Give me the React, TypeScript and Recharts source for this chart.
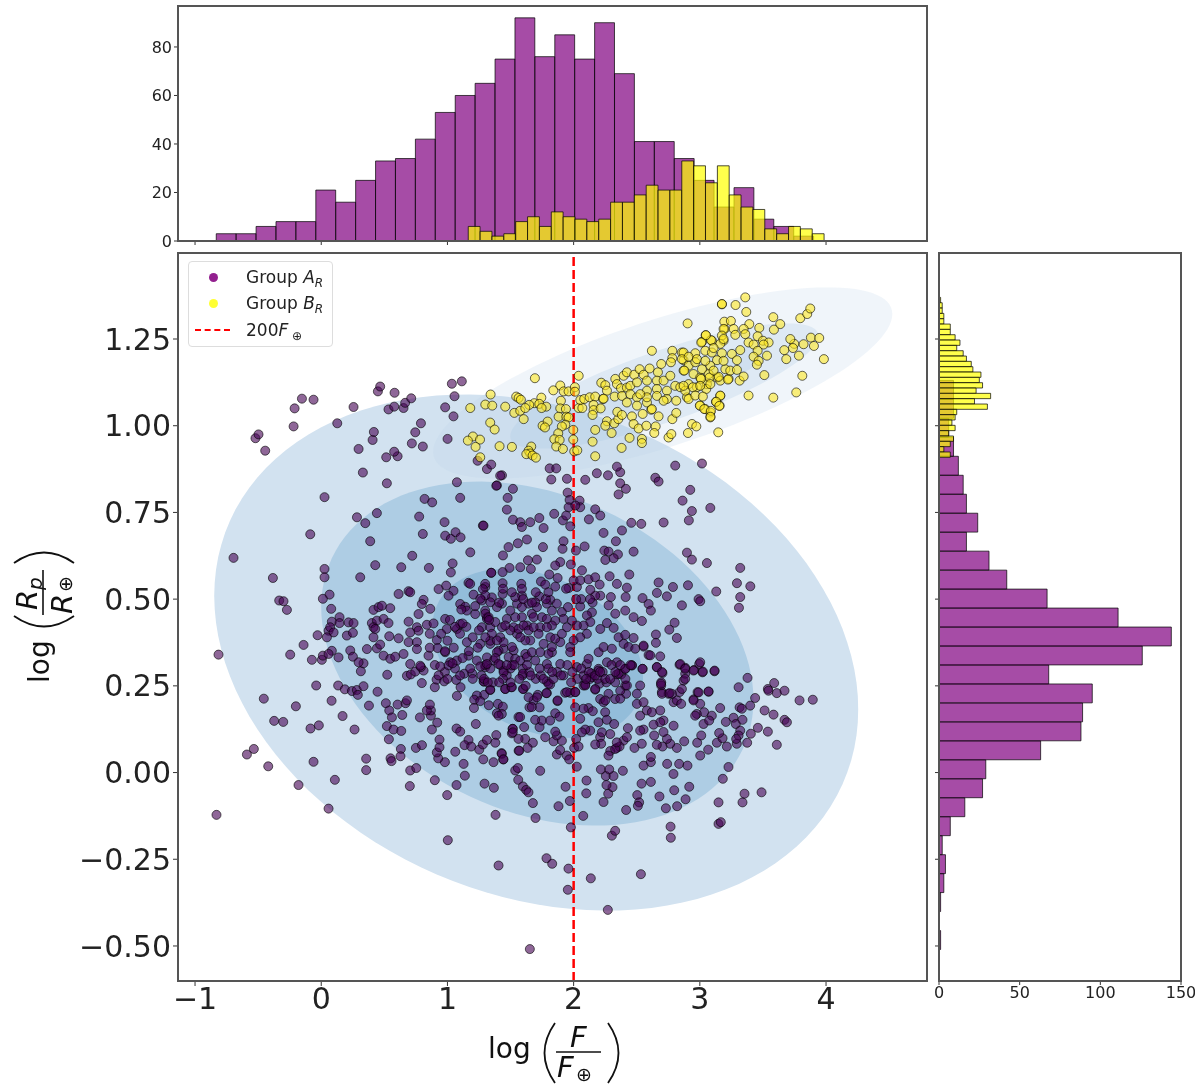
import React from 'react';
import {
  BarChart, Bar, ScatterChart, Scatter, XAxis, YAxis, ZAxis, ReferenceArea, ReferenceLine,
} from 'recharts';

const fluxTicks = [-1, 0, 1, 2, 3, 4];
const radiusTicks = [-0.5, -0.25, 0, 0.25, 0.5, 0.75, 1, 1.25];
const fluxDomain = [-1.135, 4.8];
const radiusDomain = [-0.601, 1.498];

// log F histogram
const fluxBinsA = [-0.753, -0.5952, -0.4374, -0.2796, -0.1218, 0.036, 0.1938, 0.3516, 0.5094, 0.6672, 0.825, 0.9828, 1.1406, 1.2984, 1.4562, 1.614, 1.7718, 1.9296, 2.0874, 2.2452, 2.403, 2.5608, 2.7186, 2.8764, 3.0342, 3.192, 3.3498, 3.5076, 3.6654, 3.8232];
const fluxCountsA = [3, 3, 6, 8, 8, 21, 16, 25, 33, 34, 42, 53, 60, 65, 75, 92, 76, 85, 75, 90, 69, 41, 41, 34, 25, 14, 22, 9, 6, 2];
const fluxBinsB = [1.212, 1.306, 1.4, 1.494, 1.588, 1.682, 1.776, 1.87, 1.964, 2.058, 2.152, 2.246, 2.34, 2.434, 2.528, 2.622, 2.716, 2.81, 2.904, 2.998, 3.092, 3.186, 3.28, 3.374, 3.468, 3.562, 3.656, 3.75, 3.844, 3.938];
const fluxCountsB = [6, 4, 2, 3, 8, 10, 6, 12, 10, 9, 8, 9, 16, 16, 19, 23, 21, 21, 33, 31, 24, 31, 19, 14, 13, 5, 3, 6, 5, 3];

// log R histogram
const radiusBinsA = [-0.483, -0.4283, -0.3736, -0.3189, -0.2642, -0.2095, -0.1548, -0.1001, -0.0454, 0.0093, 0.064, 0.1187, 0.1734, 0.2281, 0.2828, 0.3375, 0.3922, 0.4469, 0.5016, 0.5563, 0.611, 0.6657, 0.7204, 0.7751, 0.8298, 0.8845, 0.9392, 0.9939, 1.0486, 1.1033];
const radiusCountsA = [1, 0, 1, 3, 4, 2, 7, 16, 27, 29, 63, 88, 89, 95, 68, 126, 144, 111, 67, 42, 31, 17, 24, 17, 15, 12, 9, 6, 9, 9];
const radiusBinsB = [1.3623, 1.34693, 1.33156, 1.31619, 1.30082, 1.28545, 1.27008, 1.25471, 1.23934, 1.22397, 1.2086, 1.19323, 1.17786, 1.16249, 1.14712, 1.13175, 1.11638, 1.10101, 1.08564, 1.07027, 1.0549, 1.03953, 1.02416, 1.00879, 0.99342, 0.97805, 0.96268, 0.94731, 0.93194, 0.91657];
const radiusCountsB = [1, 2, 2, 3, 3, 7, 7, 10, 13, 11, 15, 17, 20, 21, 26, 25, 27, 23, 32, 22, 30, 11, 10, 8, 10, 6, 9, 7, 3, 7];

// density contours: extent in data units plus tilt
const contours = [
  { x1: -0.848, x2: 4.255, y1: -0.398, y2: 1.09, tilt: -0.22, fill: '#d2e2f0', opacity: 1 },
  { x1: 0, x2: 3.425, y1: -0.153, y2: 0.839, tilt: -0.27, fill: '#aecde4', opacity: 1 },
  { x1: 0.88, x2: 2.55, y1: 0.1, y2: 0.588, tilt: -0.3, fill: '#93bdda', opacity: 1 },
  { x1: 0.887, x2: 4.525, y1: 0.848, y2: 1.399, tilt: 0.72, fill: '#b9d3e9', opacity: 0.22 },
  { x1: 1.498, x2: 3.94, y1: 0.934, y2: 1.295, tilt: 0.8, fill: '#a9c9e4', opacity: 0.25 },
  { x1: 2.15, x2: 3.55, y1: 1.03, y2: 1.23, tilt: 0.85, fill: '#a9c9e4', opacity: 0.25 },
];

const groupA = [
  [-0.83, -0.122], [-0.589, 0.052], [-0.534, 0.068], [-0.42, 0.018], [-0.18, -0.036], [0.058, -0.104], [0.108, -0.021], [-0.061, 0.031],
  [-0.455, 0.213], [-0.373, 0.149], [-0.301, 0.146], [-0.201, 0.191], [-0.085, 0.127], [-0.019, 0.136], [0.082, 0.207], [-0.04, 0.251],
  [0.134, 0.251], [0.187, 0.24], [0.243, 0.235], [0.282, 0.238], [0.29, 0.224], [0.335, 0.249], [0.446, 0.233], [0.378, 0.193],
  [0.169, 0.163], [0.264, 0.124], [0.356, 0.04], [0.356, 0.007], [0.512, 0.2], [0.539, 0.179], [0.56, 0.159], [0.605, 0.196],
  [0.668, 0.2], [0.679, 0.208], [0.642, 0.166], [0.52, 0.134], [0.573, 0.124], [0.634, 0.12], [0.536, 0.096], [0.631, 0.068],
  [0.628, 0.047], [0.549, 0.041], [0.557, 0.033], [0.75, 0.071], [0.798, 0.079], [0.705, 0.006], [0.753, 0.013], [0.702, -0.039],
  [0.9, -0.022], [0.998, -0.065], [1.072, -0.036], [1.138, -0.009], [1.128, 0.025], [0.98, 0.03], [0.927, 0.041], [0.916, 0.058],
  [0.937, 0.073], [0.937, 0.095], [0.877, 0.124], [0.782, 0.159], [0.919, 0.144], [0.869, 0.164], [0.869, 0.179], [0.837, 0.179],
  [0.861, 0.196], [0.797, 0.258], [0.9, 0.246], [0.914, 0.268], [0.974, 0.263], [0.679, 0.279], [0.71, 0.283], [0.745, 0.291],
  [0.811, 0.294], [0.79, 0.304], [0.523, 0.282], [0.314, 0.292], [0.335, 0.315], [1.07, 0.267], [1.104, 0.246], [1.075, 0.221],
  [1.133, 0.285], [1.196, 0.286], [1.291, 0.262], [1.339, 0.238], [1.291, 0.224], [1.233, 0.222], [1.212, 0.21], [1.26, 0.206],
  [1.21, 0.186], [1.328, 0.194], [1.4, 0.198], [1.439, 0.19], [1.392, 0.171], [1.431, 0.169], [1.405, 0.164], [1.225, 0.14],
  [1.072, 0.127], [1.101, 0.118], [1.167, 0.094], [1.136, 0.079], [1.188, 0.075], [1.252, 0.066], [1.281, 0.081], [1.313, 0.094],
  [1.387, 0.108], [1.379, 0.086], [1.062, 0.06], [1.284, 0.038], [1.365, 0.03], [1.429, 0.056], [1.442, 0.038], [1.294, -0.032],
  [1.368, -0.044], [1.381, -0.122], [1.003, -0.195], [1.405, -0.268], [1.516, 0.126], [1.511, 0.113], [1.564, 0.063], [1.458, 0.241],
  [1.505, 0.246], [1.563, 0.16], [1.653, -0.509], [2.271, -0.396], [1.954, -0.338], [2.136, -0.305], [2.533, -0.293], [1.959, -0.277],
  [1.785, -0.247], [1.83, -0.263], [2.303, -0.182], [2.329, -0.168], [2.768, -0.156], [2.77, -0.188], [1.978, -0.158], [2.076, -0.125],
  [1.698, -0.131], [1.88, -0.097], [1.97, -0.082], [1.677, -0.088], [2.416, -0.108], [2.237, -0.085], [2.1, -0.06], [1.936, -0.041],
  [2.102, -0.023], [2.274, -0.061], [2.308, -0.042], [2.26, -0.036], [2.255, -0.01], [2.316, -0.01], [2.216, 0.009], [2.282, 0.009],
  [2.39, 0.005], [2.025, 0.017], [1.735, 0.005], [1.537, 0.006], [1.558, 0.013], [1.561, -0.021], [1.598, -0.04], [1.624, -0.05],
  [1.642, -0.057], [2.538, -0.032], [2.612, -0.027], [2.504, -0.065], [2.519, -0.086], [2.509, -0.096], [2.68, -0.069], [2.731, -0.103],
  [2.82, -0.097], [2.887, -0.077], [2.797, -0.051], [2.916, -0.041], [2.791, -0.004], [2.741, 0.025], [2.836, 0.025], [2.902, 0.02],
  [2.554, 0.02], [2.612, 0.03], [2.612, 0.045], [3.003, 0.049], [3.066, 0.066], [3.227, 0.016], [3.182, -0.018], [3.148, -0.086],
  [3.148, -0.148], [3.166, -0.143], [3.338, -0.086], [3.354, -0.061], [3.489, -0.057], [3.61, 0.08], [3.375, 0.086], [3.293, 0.083],
  [3.214, 0.075], [3.135, 0.086], [3.18, 0.099], [3.153, 0.114], [2.979, 0.086], [3.011, 0.107], [2.876, 0.09], [2.818, 0.071],
  [2.765, 0.083], [2.704, 0.075], [2.659, 0.08], [2.739, 0.097], [2.712, 0.117], [2.638, 0.107], [2.54, 0.083], [2.482, 0.071],
  [2.554, 0.124], [2.527, 0.121], [2.43, 0.128], [2.395, 0.092], [2.342, 0.071], [2.364, 0.075], [2.29, 0.062], [2.276, 0.049],
  [2.329, 0.068], [2.422, 0.102], [2.342, 0.087], [2.21, 0.102], [2.218, 0.083], [2.171, 0.081], [2.224, 0.116], [2.29, 0.111],
  [2.131, 0.121], [2.092, 0.124], [2.065, 0.116], [2.052, 0.155], [2.197, 0.145], [2.25, 0.174], [2.263, 0.152], [2.321, 0.14],
  [2.118, 0.186], [2.152, 0.177], [2.078, 0.184], [2.02, 0.097], [2.004, 0.071], [2.039, 0.075], [2.012, 0.188], [1.946, 0.049],
  [1.965, 0.038], [1.867, 0.052], [1.893, 0.065], [1.841, 0.09], [1.907, 0.092], [1.867, 0.107], [1.854, 0.118], [1.775, 0.102],
  [1.73, 0.131], [1.748, 0.15], [1.695, 0.152], [1.576, 0.16], [1.608, 0.131], [1.518, 0.126], [1.518, 0.116], [1.616, 0.097],
  [1.563, 0.097], [1.677, 0.086], [1.635, 0.071], [1.569, 0.063], [1.431, 0.054], [1.444, 0.038], [1.73, 0.188], [1.854, 0.171],
  [1.814, 0.15], [1.888, 0.161], [1.788, 0.229], [1.716, 0.224], [1.872, 0.206], [1.65, 0.188], [1.682, 0.208], [1.603, 0.241],
  [1.595, 0.28], [1.598, 0.299], [1.814, 0.254], [1.788, 0.263], [1.933, 0.23], [1.973, 0.23], [2.012, 0.232], [2.078, 0.251],
  [2.092, 0.254], [2.171, 0.239], [2.205, 0.256], [2.131, 0.27], [2.197, 0.299], [2.139, 0.286], [2.21, 0.212], [2.276, 0.227],
  [2.237, 0.203], [2.329, 0.212], [2.416, 0.227], [2.369, 0.236], [2.409, 0.251], [2.342, 0.283], [2.377, 0.283], [2.527, 0.251],
  [2.501, 0.227], [2.501, 0.198], [2.527, 0.164], [2.554, 0.203], [2.58, 0.179], [2.62, 0.174], [2.686, 0.179], [2.712, 0.15],
  [2.686, 0.145], [2.633, 0.138], [2.792, 0.135], [2.694, 0.26], [2.694, 0.251], [2.699, 0.232], [2.752, 0.227], [2.792, 0.203],
  [2.818, 0.208], [2.852, 0.198], [2.839, 0.232], [2.871, 0.265], [2.884, 0.285], [2.659, 0.304], [2.704, 0.287], [2.546, 0.299],
  [2.461, 0.309], [2.409, 0.299], [2.839, 0.311], [2.884, 0.302], [2.955, 0.296], [3.021, 0.289], [2.995, 0.313], [3.116, 0.292],
  [2.95, 0.211], [2.982, 0.232], [3.069, 0.233], [3.003, 0.198], [3.034, 0.174], [3.029, 0.14], [2.976, 0.169], [2.963, 0.164],
  [3.095, 0.164], [3.074, 0.15], [3.161, 0.186], [3.206, 0.146], [3.267, 0.158], [3.285, 0.14], [3.315, 0.188], [3.333, 0.184],
  [3.399, 0.193], [3.438, 0.215], [3.338, 0.152], [3.32, 0.121], [3.307, 0.107], [3.288, 0.097], [3.404, 0.112], [3.46, 0.129],
  [3.539, 0.118], [3.307, 0.246], [3.378, 0.273], [3.513, 0.179], [3.584, 0.167], [3.671, 0.152], [3.69, 0.145], [3.539, 0.241],
  [3.544, 0.236], [3.589, 0.258], [3.61, 0.229], [3.671, 0.236], [3.79, 0.208], [3.895, 0.21],
  [1.432, 0.857], [1.392, 0.828], [1.519, 0.818], [1.477, 0.792], [1.471, 0.758], [1.519, 0.729], [1.577, 0.722], [1.59, 0.708],
  [1.656, 0.722], [1.728, 0.734], [1.762, 0.705], [1.281, 0.712], [1.846, 0.746], [1.915, 0.727], [1.941, 0.741], [1.973, 0.71],
  [1.952, 0.807], [1.968, 0.786], [1.96, 0.765], [2.047, 0.784], [2.052, 0.765], [2.013, 0.77], [1.823, 0.845], [1.947, 0.847],
  [2.092, 0.844], [2.184, 0.863], [2.272, 0.857], [2.369, 0.866], [2.369, 0.834], [2.414, 0.818], [2.356, 0.802], [2.647, 0.85],
  [2.673, 0.839], [2.924, 0.815], [2.863, 0.784], [3.083, 0.763], [2.937, 0.754], [2.913, 0.727], [2.713, 0.721], [2.171, 0.759],
  [2.211, 0.741], [2.121, 0.73], [2.237, 0.691], [2.383, 0.698], [2.457, 0.72], [2.536, 0.717], [2.335, 0.667], [2.475, 0.637],
  [2.243, 0.64], [2.277, 0.637], [2.351, 0.629], [2.317, 0.618], [2.251, 0.613], [2.898, 0.634], [2.937, 0.614], [3.056, 0.604],
  [3.32, 0.59], [3.294, 0.546], [3.4, 0.537], [3.32, 0.506], [3.31, 0.475], [3.13, 0.522], [2.906, 0.54], [2.787, 0.535],
  [2.673, 0.548], [2.66, 0.518], [2.739, 0.508], [2.441, 0.571], [2.285, 0.566], [2.858, 0.482], [2.99, 0.5], [3.003, 0.494],
  [2.343, 0.544], [2.422, 0.533], [2.295, 0.506], [2.412, 0.506], [2.211, 0.51], [2.171, 0.51], [2.546, 0.503], [2.594, 0.486],
  [2.612, 0.467], [2.541, 0.437], [2.8, 0.432], [2.758, 0.412], [2.818, 0.388], [2.652, 0.398], [2.652, 0.374], [2.554, 0.363],
  [2.686, 0.335], [2.594, 0.339], [1.757, 0.65], [1.63, 0.672], [1.558, 0.661], [1.484, 0.65], [1.44, 0.626], [1.92, 0.667],
  [1.912, 0.645], [2.018, 0.64], [2.087, 0.652], [1.638, 0.612], [1.709, 0.614], [1.661, 0.587], [1.577, 0.592], [1.492, 0.59],
  [1.437, 0.578], [1.347, 0.576], [1.894, 0.607], [1.854, 0.597], [1.978, 0.6], [2.066, 0.583], [1.807, 0.571], [1.741, 0.551],
  [1.775, 0.542], [1.854, 0.536], [1.873, 0.561], [1.96, 0.532], [2.026, 0.535], [2, 0.554], [2.052, 0.554], [2.118, 0.557],
  [2.171, 0.563], [2.206, 0.542], [2.132, 0.527], [1.585, 0.544], [1.437, 0.546], [1.437, 0.515], [1.3, 0.535], [1.59, 0.51],
  [1.728, 0.508], [1.643, 0.487], [1.815, 0.498], [1.907, 0.463], [1.955, 0.477], [2.052, 0.479], [2.145, 0.462], [2.105, 0.453],
  [2.277, 0.482], [2.33, 0.458], [2.409, 0.467], [2.475, 0.448], [2.132, 0.434], [2.211, 0.414], [2.264, 0.431], [2.317, 0.417],
  [2.356, 0.39], [2.409, 0.397], [2.475, 0.388], [2.079, 0.424], [2.105, 0.4], [2, 0.381], [1.973, 0.362], [1.894, 0.376],
  [1.815, 0.39], [1.735, 0.419], [1.63, 0.424], [1.524, 0.419], [1.432, 0.419], [1.313, 0.448], [1.418, 0.39], [1.551, 0.4],
  [1.656, 0.381], [1.762, 0.371], [1.828, 0.347], [1.894, 0.313], [1.973, 0.347], [2.052, 0.39], [1.59, 0.448], [1.669, 0.458],
  [1.749, 0.448], [1.828, 0.467], [1.696, 0.491], [1.339, 0.371], [1.445, 0.357], [1.524, 0.352], [1.617, 0.342], [1.696, 0.323],
  [1.788, 0.313], [1.366, 0.323], [1.3, 0.304], [1.445, 0.294], [1.598, 0.285], [1.598, 0.241], [1.458, 0.241], [1.511, 0.246],
  [1.339, 0.239], [1.286, 0.263], [1.801, 0.256], [1.783, 0.229], [1.873, 0.208], [1.709, 0.217], [1.643, 0.217], [1.669, 0.189],
  [1.947, 0.232], [2.013, 0.232], [2.092, 0.251], [2.145, 0.275], [2.198, 0.294], [2.171, 0.241], [2.251, 0.208], [2.369, 0.213],
  [2.422, 0.251], [2.356, 0.285], [2.409, 0.299], [2.462, 0.309], [2.546, 0.299], [2.343, 0.318], [2.264, 0.318], [2.198, 0.347],
  [2.237, 0.362], [2.303, 0.357], [2.396, 0.371], [2.435, 0.362], [2.488, 0.357], [2.554, 0.366], [2.607, 0.338], [2.105, 0.313],
  [2.026, 0.304], [2.118, 0.328], [2.66, 0.304], [2.7, 0.29], [2.845, 0.313], [2.884, 0.299], [2.95, 0.294], [3.003, 0.318],
  [3.024, 0.291], [3.117, 0.294], [2.884, 0.27], [2.858, 0.241], [2.779, 0.227], [2.95, 0.208], [2.99, 0.231],
  [3.069, 0.234], [2.692, 0.256], [2.7, 0.227], [2.76, 0.229],
  [-0.695, 0.619], [-0.383, 0.561], [-0.814, 0.34], [-0.087, 0.687], [0.026, 0.794], [0.026, 0.587], [0.026, 0.563], [-0.333, 0.496],
  [-0.299, 0.494], [-0.272, 0.469], [0.066, 0.513], [0.013, 0.501], [-0.14, 0.368], [-0.246, 0.34], [-0.029, 0.396], [-0.074, 0.325],
  [0.005, 0.325], [0.013, 0.337], [0.079, 0.472], [0.084, 0.435], [0.145, 0.448], [0.145, 0.431], [0.058, 0.409], [0.071, 0.419],
  [0.098, 0.404], [0.045, 0.39], [0.084, 0.351], [0.058, 0.342], [0.137, 0.332], [0.216, 0.433], [0.256, 0.431], [0.203, 0.395],
  [0.251, 0.403], [0.23, 0.352], [0.251, 0.334], [0.296, 0.318], [0.362, 0.356], [0.441, 0.358], [0.467, 0.369], [0.414, 0.469],
  [0.454, 0.477], [0.481, 0.481], [0.547, 0.474], [0.401, 0.431], [0.441, 0.438], [0.414, 0.419], [0.494, 0.443], [0.533, 0.431],
  [0.428, 0.414], [0.414, 0.39], [0.539, 0.393], [0.613, 0.387], [0.494, 0.337], [0.547, 0.328], [0.586, 0.334], [0.652, 0.342],
  [0.613, 0.515], [0.692, 0.523], [0.705, 0.52], [0.811, 0.498], [0.797, 0.486], [0.771, 0.457], [0.864, 0.472], [0.692, 0.435],
  [0.705, 0.404], [0.758, 0.419], [0.771, 0.409], [0.837, 0.426], [0.692, 0.376], [0.758, 0.376], [0.758, 0.356], [0.85, 0.337],
  [0.705, 0.313], [0.784, 0.308], [0.93, 0.529], [0.99, 0.539], [1.048, 0.524], [1.009, 0.51], [0.916, 0.382], [0.982, 0.443],
  [0.995, 0.414], [0.922, 0.359], [1.075, 0.414], [1.167, 0.547], [1.18, 0.544], [1.299, 0.544], [1.281, 0.529], [1.352, 0.505],
  [1.273, 0.496], [1.207, 0.513], [1.101, 0.486], [1.141, 0.478], [1.154, 0.467], [1.299, 0.467], [0.982, 0.347], [1.022, 0.318],
  [1.075, 0.323], [1.154, 0.376], [1.167, 0.337], [1.233, 0.323], [1.339, 0.38], [1.313, 0.443], [1.22, 0.457], [1.101, 0.428],
  [1.313, 0.332], [1.405, 0.351], [1.347, 0.576], [1.286, 0.712], [1.027, 0.577], [1.041, 0.603], [0.853, 0.59], [0.634, 0.592],
  [0.428, 0.598], [0.309, 0.563], [0.721, 0.625], [1.181, 0.635], [0.388, 0.667], [0.349, 0.719], [0.283, 0.736], [0.441, 0.748],
  [0.776, 0.738], [0.977, 0.722], [0.805, 0.688], [0.982, 0.683], [1.027, 0.674], [1.064, 0.693], [1.104, 0.678], [0.819, 0.789],
  [0.879, 0.779], [1.101, 0.792], [1.075, 0.837], [1.387, 0.827], [0.52, 0.834], [0.33, 0.865], [0.515, 0.909], [0.605, 0.912],
  [0.578, 0.925], [0.805, 0.94], [0.718, 0.949], [0.296, 0.933], [0.407, 0.959], [0.417, 0.982], [0.745, 0.981], [0.79, 1.007],
  [1.001, 0.962], [0.127, 1.007], [-0.219, 0.998], [-0.521, 0.964], [-0.497, 0.975], [-0.444, 0.928], [-0.211, 1.05], [-0.153, 1.078],
  [-0.061, 1.075], [0.256, 1.054], [0.449, 1.099], [0.467, 1.113], [0.581, 1.095], [0.533, 1.047], [0.578, 1.055], [0.652, 1.051],
  [0.665, 1.066], [0.713, 1.079], [0.982, 1.053], [1.048, 1.027], [1.056, 1.085], [1.035, 1.121], [1.114, 1.128], [1.239, 0.899],
  [1.313, 0.875], [1.347, 0.888], [1.418, 0.856], [1.81, 0.877], [1.862, 0.877], [2.343, 0.882], [2.805, 0.885], [3.017, 0.891],
  [1.3, 0.458], [1.326, 0.448], [1.273, 0.419], [1.339, 0.419], [1.379, 0.434], [1.471, 0.443], [1.498, 0.41], [1.458, 0.424],
  [1.564, 0.414], [1.603, 0.424], [1.643, 0.41], [1.683, 0.419], [1.722, 0.4], [1.617, 0.381], [1.577, 0.39], [1.511, 0.362],
  [1.445, 0.376], [1.392, 0.381], [1.352, 0.4], [1.3, 0.39], [1.26, 0.371], [1.392, 0.347], [1.485, 0.333], [1.537, 0.328],
  [1.577, 0.323], [1.63, 0.333], [1.669, 0.347], [1.735, 0.347], [1.801, 0.342], [1.828, 0.362], [1.854, 0.386], [1.907, 0.4],
  [1.947, 0.419], [2.026, 0.424], [1.986, 0.438], [1.92, 0.443], [1.854, 0.438], [1.788, 0.443], [1.683, 0.448], [1.537, 0.448],
  [1.498, 0.467], [1.432, 0.487], [1.392, 0.477], [1.339, 0.491], [1.3, 0.511], [1.26, 0.501], [1.551, 0.487], [1.59, 0.477],
  [1.788, 0.487], [1.867, 0.487], [1.709, 0.477], [1.537, 0.506], [1.828, 0.424], [1.788, 0.419],
  [0.95, 0.4], [1.0, 0.38], [1.05, 0.36], [1.1, 0.4], [1.15, 0.42], [1.2, 0.39], [1.25, 0.41], [1.02, 0.44], [1.06, 0.3], [1.12, 0.33],
  [1.18, 0.3], [1.24, 0.36], [1.27, 0.28], [1.1, 0.28], [0.98, 0.29], [0.9, 0.31], [0.86, 0.4], [1.3, 0.31], [1.34, 0.3], [1.38, 0.33],
  [1.42, 0.31], [1.47, 0.28], [1.5, 0.3], [1.36, 0.26], [1.2, 0.27], [1.0, 0.27], [0.93, 0.28], [0.943, 0.306], [1.009, 0.309],
  [1.04, 0.315], [1.26, 0.306], [1.313, 0.313], [1.405, 0.313], [1.445, 0.289], [1.511, 0.309],
  [1.33, 0.44], [1.11, 0.47], [1.29, 0.27], [1.06, 0.42], [1.41, 0.49], [1.44, 0.27], [1.17, 0.35], [1.5, 0.26], [1.53, 0.31], [1.22, 0.48],
  [1.57, 0.27], [1.6, 0.5], [1.62, 0.25], [1.65, 0.29], [1.67, 0.49], [1.7, 0.27], [1.74, 0.28], [1.78, 0.5], [1.8, 0.3], [1.84, 0.27],
  [1.87, 0.29], [1.92, 0.28], [1.95, 0.31], [1.99, 0.29], [2.03, 0.27], [2.06, 0.5], [2.08, 0.28], [2.12, 0.29], [2.15, 0.49], [2.19, 0.27],
  [2.23, 0.29], [2.26, 0.26], [2.3, 0.31], [2.33, 0.26], [0.98, 0.35], [1.32, 0.26], [1.12, 0.43], [1.41, 0.26], [1.44, 0.53], [1.47, 0.31],
  [1.51, 0.52], [0.89, 0.43], [1.59, 0.53], [1.63, 0.31], [1.66, 0.28], [1.7, 0.52], [1.73, 0.3], [1.76, 0.27], [1.8, 0.52], [1.83, 0.29],
  [0.86, 0.36], [1.9, 0.28], [1.94, 0.53], [1.98, 0.26], [2.02, 0.5], [2.06, 0.3], [2.1, 0.27], [2.13, 0.5], [2.17, 0.28], [2.21, 0.29],
  [2.25, 0.27], [2.29, 0.27], [2.33, 0.29], [2.37, 0.31], [2.41, 0.27], [2.45, 0.31],
].map(([x, y]) => ({ x, y }));

const groupB = [
  [1.693, 1.137], [1.342, 1.09], [1.181, 1.051], [1.3, 1.061], [1.355, 1.058], [1.458, 1.055], [1.545, 1.084], [1.564, 1.08], [1.582, 1.075],
  [1.744, 1.081], [1.688, 1.065], [1.728, 1.063], [1.648, 1.06], [1.783, 1.055], [1.746, 1.051], [1.53, 1.037], [1.577, 1.043], [1.617, 1.051],
  [1.604, 1.019], [1.339, 1.009], [1.374, 0.989], [1.202, 0.969], [1.162, 0.957], [1.258, 0.96], [1.223, 0.939], [1.413, 0.941], [1.511, 0.939],
  [1.664, 0.94], [1.643, 0.928], [1.656, 0.92], [1.625, 0.918], [1.675, 0.914], [1.701, 0.908], [1.26, 0.909], [1.754, 1], [1.794, 1.012],
  [1.773, 0.995], [1.839, 1.102], [1.894, 1.116], [1.921, 1.099], [1.96, 1.099], [2.01, 1.111], [2.01, 1.098], [2.04, 1.144], [1.899, 1.072],
  [1.894, 1.05], [1.939, 1.048], [1.881, 1.026], [1.942, 1.026], [1.96, 1.024], [1.934, 1.003], [1.907, 0.998], [1.878, 0.978], [1.847, 0.961],
  [1.889, 0.959], [1.862, 0.94], [1.915, 0.933], [1.997, 0.988], [1.997, 0.96], [2.005, 0.926], [2.029, 0.929], [2.04, 1.051], [2.069, 1.051],
  [2.053, 1.074], [2.084, 1.077], [2.127, 1.082], [2.171, 1.084], [2.232, 1.077], [2.158, 1.06], [2.158, 1.045], [2.15, 1.031], [2.214, 1.05],
  [2.171, 0.988], [2.15, 0.954], [2.171, 0.912], [2.38, 0.936], [2.301, 0.979], [2.264, 1.013], [2.251, 1.0], [2.322, 1.007], [2.354, 1.019],
  [2.346, 1.04], [2.443, 0.965], [2.541, 0.962], [2.541, 0.95], [2.383, 1.031], [2.462, 1.027], [2.475, 1.005], [2.515, 0.992], [2.576, 1],
  [2.65, 0.998], [2.639, 0.979], [2.752, 0.966], [2.774, 0.976], [2.906, 0.979], [3.146, 0.981], [2.938, 1.005], [2.972, 0.998], [2.782, 1.019],
  [2.813, 1.037], [2.673, 1.027], [2.615, 1.046], [2.547, 1.034], [2.813, 1.072], [2.219, 1.124], [2.251, 1.117], [2.264, 1.101], [2.325, 1.084],
  [2.238, 1.078], [2.33, 1.135], [2.343, 1.12], [2.375, 1.108], [2.396, 1.144], [2.422, 1.154], [2.48, 1.147], [2.523, 1.163], [2.602, 1.165],
  [2.555, 1.147], [2.668, 1.154], [2.694, 1.178], [2.62, 1.216], [2.903, 1.295], [3.175, 1.35], [2.782, 1.216], [2.782, 1.195], [2.771, 1.183],
  [2.858, 1.211], [2.871, 1.189], [2.911, 1.173], [2.964, 1.209], [3.017, 1.242], [3.046, 1.261], [3.096, 1.245], [3.043, 1.216], [3.096, 1.211],
  [3.175, 1.209], [3.188, 1.245], [3.196, 1.279], [3.194, 1.3], [2.383, 1.086], [2.422, 1.11], [2.449, 1.115], [2.502, 1.125], [2.581, 1.13],
  [2.66, 1.13], [2.713, 1.13], [2.766, 1.144], [2.805, 1.115], [2.871, 1.159], [2.95, 1.149], [3.003, 1.139], [3.07, 1.149], [3.136, 1.139],
  [3.202, 1.163], [3.228, 1.135], [2.449, 1.091], [2.502, 1.082], [2.581, 1.101], [2.66, 1.106], [2.739, 1.101], [2.845, 1.111], [2.911, 1.12],
  [2.977, 1.111], [3.056, 1.12], [3.162, 1.13], [2.739, 1.077], [2.581, 1.067], [2.502, 1.058], [2.422, 1.067], [2.66, 1.086], [2.581, 1.082],
  [2.528, 1.091], [2.62, 1.048], [2.713, 1.072], [2.898, 1.082], [2.885, 1.101], [2.911, 1.077], [3.003, 1.058], [3.043, 1.048], [3.083, 1.038],
  [3.083, 1.024], [3.162, 1.086], [3.157, 1.058], [3.128, 1.069], [3.36, 1.37], [3.175, 1.351], [3.283, 1.348], [3.368, 1.328], [3.246, 1.302],
  [3.392, 1.293], [3.582, 1.313], [3.637, 1.293], [3.587, 1.277], [3.471, 1.282], [3.796, 1.31], [3.851, 1.322], [3.875, 1.338], [3.88, 1.254],
  [3.946, 1.253], [3.904, 1.23], [3.822, 1.235], [3.748, 1.236], [3.717, 1.25], [3.738, 1.224], [3.669, 1.218], [3.785, 1.202], [3.685, 1.192],
  [3.983, 1.192], [3.532, 1.202], [3.511, 1.146], [3.812, 1.144], [3.764, 1.096], [3.582, 1.081], [3.386, 1.087], [3.188, 1.279], [3.268, 1.279],
  [3.281, 1.262], [3.347, 1.279], [3.36, 1.264], [3.386, 1.24], [3.426, 1.234], [3.458, 1.258], [3.5, 1.245], [3.545, 1.24], [3.505, 1.234],
  [3.458, 1.216], [3.175, 1.26], [3.162, 1.236], [3.188, 1.25], [3.088, 1.247], [3.048, 1.261], [3.011, 1.24], [2.871, 1.211], [3.32, 1.218],
  [3.254, 1.207], [3.109, 1.224], [3.426, 1.199], [3.466, 1.187], [3.452, 1.176], [3.294, 1.189], [3.315, 1.13], [3.347, 1.142], [3.223, 1.133],
  [3.136, 1.189], [3.083, 1.173], [3.188, 1.187], [3.241, 1.159], [3.294, 1.161], [3.149, 1.141], [3.077, 1.139], [3.009, 1.135], [2.877, 1.159],
  [2.964, 1.183], [3.017, 1.163], [3.109, 1.159], [2.858, 1.192], [2.911, 1.199], [2.977, 1.192], [3.043, 1.187], [3.051, 1.106], [2.945, 1.111],
  [2.871, 1.115], [3.003, 1.115], [3.083, 1.12], [2.964, 1.087], [3.024, 1.084], [3.162, 1.087], [3.13, 1.069], [3.154, 1.057], [3, 1.058],
  [3.035, 1.048], [3.088, 1.043], [3.085, 1.026],
].map(([x, y]) => ({ x, y }));

const fluxHistA = fluxBinsA.map((bin, i) => ({ bin, count: fluxCountsA[i] }));
const fluxHistB = fluxBinsB.map((bin, i) => ({ bin, count: fluxCountsB[i] }));
const radiusHistA = radiusBinsA.map((bin, i) => ({ bin, count: radiusCountsA[i] }));
const radiusHistB = radiusBinsB.map((bin, i) => ({ bin, count: radiusCountsB[i] }));

const FONT = '"DejaVu Sans", sans-serif';
const INK = '#222';
const FRAME = '#555';
const PURPLE = '#800080';
const YELLOW = '#ffff00';

const NoLabel = () => <g />;

const Contour = ({ x, y, width, height, tilt, fill, opacity }: any) => {
  const delta = Math.acos(tilt);
  const steps = [];
  for (let t = 0; t < 360; t += 3) {
    const a = (t * Math.PI) / 180;
    const px = x + width / 2 + (width / 2) * Math.cos(a);
    const py = y + height / 2 - (height / 2) * Math.cos(a - delta);
    steps.push(`${px.toFixed(1)},${py.toFixed(1)}`);
  }
  return <path d={`M${steps.join('L')}Z`} fill={fill} fillOpacity={opacity} stroke="none" />;
};

const Frame = ({ left, top, width, height }: any) => (
  <div style={{ position: 'absolute', left, top, width, height, border: `2px solid ${FRAME}`, boxSizing: 'border-box', pointerEvents: 'none' }} />
);

// the two groups have different bins, so each gets its own chart stacked on the same plot area.
// barSize stays just under the bin width, recharts shrinks bars by 10% otherwise
const FluxHist = ({ data, fill, barSize, axes }: any) => (
  <div style={{ position: 'absolute', left: 120, top: 0 }}>
    <BarChart data={data} width={815} height={252} margin={{ top: 5, right: 8, left: 8, bottom: 3 }}>
      <XAxis type="number" dataKey="bin" domain={fluxDomain} ticks={fluxTicks} tick={NoLabel} height={8} tickSize={4} axisLine={false} tickLine={axes ? { stroke: '#333' } : false} interval={0} allowDataOverflow />
      <YAxis type="number" domain={[0, 97.3]} ticks={[0, 20, 40, 60, 80]} width={50} tickSize={4} tickLine={axes ? { stroke: '#333' } : false} axisLine={false} tick={axes ? { fontSize: 16, fill: INK, fontFamily: FONT } : NoLabel} />
      <Bar dataKey="count" barSize={barSize} fill={fill} fillOpacity={0.7} stroke="#000" strokeOpacity={0.7} isAnimationActive={false} />
    </BarChart>
  </div>
);

const RadiusHist = ({ data, fill, barSize, axes }: any) => (
  <div style={{ position: 'absolute', left: 930, top: 240 }}>
    <BarChart data={data} layout="vertical" width={265} height={800} margin={{ top: 13, right: 14, left: 0, bottom: 14 }}>
      <XAxis type="number" domain={[0, 150]} ticks={[0, 50, 100, 150]} height={45} tickSize={4} tickLine={axes ? { stroke: '#333' } : false} axisLine={false} tick={axes ? { fontSize: 16, fill: INK, fontFamily: FONT } : NoLabel} />
      <YAxis type="number" dataKey="bin" reversed domain={radiusDomain} ticks={radiusTicks} tick={NoLabel} width={9} tickSize={4} tickLine={axes ? { stroke: '#333' } : false} axisLine={false} interval={0} allowDataOverflow />
      <Bar dataKey="count" barSize={barSize} fill={fill} fillOpacity={0.7} stroke="#000" strokeOpacity={0.7} isAnimationActive={false} />
    </BarChart>
  </div>
);

const paren = (side: number) =>
  side < 0 ? 'M67,-29 Q46,1 67,31' : 'M120,-29 Q141,1 120,31';

// log( num / den ) with the fraction bar on y=0 and "log" starting at x=0
const MathLabel = ({ transform, children }: any) => (
  <g transform={transform} fontFamily={FONT} fill="#111">
    <text x={0} y={6} fontSize={28}>log</text>
    <path d={paren(-1)} fill="none" stroke="#111" strokeWidth={1.8} />
    <path d={paren(1)} fill="none" stroke="#111" strokeWidth={1.8} />
    <line x1={68} x2={113} y1={0} y2={0} stroke="#111" strokeWidth={1.6} />
    {children}
  </g>
);

const legendRow: React.CSSProperties = { position: 'absolute', left: 57, fontSize: 17, lineHeight: '20px', whiteSpace: 'nowrap', color: '#222' };
const sub: React.CSSProperties = { fontSize: 12, fontStyle: 'italic', position: 'relative', top: 4 };

const App = () => (
  <div style={{ position: 'absolute', left: 0, top: 0, width: 1200, height: 1088, background: '#fff', fontFamily: FONT, overflow: 'hidden', filter: 'blur(0.45px)' }}>
    <FluxHist data={fluxHistA} fill={PURPLE} barSize={19.85} axes />
    <FluxHist data={fluxHistB} fill={YELLOW} barSize={11.8} axes={false} />
    <Frame left={177} top={5} width={751} height={237} />

    <div style={{ position: 'absolute', left: 60, top: 240 }}>
      <ScatterChart width={880} height={800} margin={{ top: 13, right: 13, left: 18, bottom: 14 }}>
        <XAxis type="number" dataKey="x" domain={fluxDomain} ticks={fluxTicks} height={45} tickSize={5} stroke="#333" interval={0} allowDataOverflow
          tickFormatter={(v: number) => String(v).replace('-', '\u2212')} tick={{ fontSize: 30, fill: INK, fontFamily: FONT }} />
        <YAxis type="number" dataKey="y" domain={radiusDomain} ticks={radiusTicks} width={100} tickSize={5} stroke="#333" interval={0} allowDataOverflow
          tickFormatter={(v: number) => v.toFixed(2).replace('-', '\u2212')} tick={{ fontSize: 30, fill: INK, fontFamily: FONT }} />
        <ZAxis range={[60, 60]} />
        {contours.map((c, i) => (
          <ReferenceArea key={i} x1={c.x1} x2={c.x2} y1={c.y1} y2={c.y2} stroke="none"
            shape={(p: any) => <Contour {...p} tilt={c.tilt} fill={c.fill} opacity={c.opacity} />} />
        ))}
        <Scatter name="Group A_R" data={groupA} fill="#440154" fillOpacity={0.6} stroke="#000" strokeOpacity={0.6} isAnimationActive={false} />
        <Scatter name="Group B_R" data={groupB} fill="#fde725" fillOpacity={0.6} stroke="#000" strokeOpacity={0.6} isAnimationActive={false} />
        <ReferenceLine x={2} stroke="#ff0000" strokeWidth={2.5} strokeDasharray="9 4" />
      </ScatterChart>
    </div>
    <Frame left={177} top={252} width={751} height={730} />

    <RadiusHist data={radiusHistA} fill={PURPLE} barSize={18.9} axes />
    <RadiusHist data={radiusHistB} fill={YELLOW} barSize={5.3} axes={false} />
    <Frame left={938} top={252} width={244} height={730} />

    {/* legend */}
    <div style={{ position: 'absolute', left: 188, top: 261, width: 145, height: 86, boxSizing: 'border-box', border: '1px solid #ddd', borderRadius: 4, background: 'rgba(255,255,255,0.8)' }}>
      <span style={{ position: 'absolute', left: 20, top: 11, width: 9, height: 9, borderRadius: '50%', background: '#93208f' }} />
      <span style={{ position: 'absolute', left: 20, top: 37, width: 9, height: 9, borderRadius: '50%', background: '#ffff33' }} />
      <span style={{ position: 'absolute', left: 6, top: 67, width: 35, height: 0, borderTop: '2.5px dashed #ff0000' }} />
      <div style={{ ...legendRow, top: 5 }}>Group <i>A</i><span style={sub}>R</span></div>
      <div style={{ ...legendRow, top: 31 }}>Group <i>B</i><span style={sub}>R</span></div>
      <div style={{ ...legendRow, top: 58 }}>200<i>F</i><span style={{ ...sub, fontStyle: 'normal' }}> ⊕</span></div>
    </div>

    {/* axis labels */}
    <svg width={1200} height={1088} style={{ position: 'absolute', left: 0, top: 0, pointerEvents: 'none' }}>
      <MathLabel transform="translate(488,1052)">
        <text x={82} y={-5} fontSize={29} fontStyle="italic">F</text>
        <text x={69} y={25} fontSize={29} fontStyle="italic">F</text>
        <text x={88} y={29} fontSize={19}>⊕</text>
      </MathLabel>
      <MathLabel transform="translate(43,683) rotate(-90)">
        <text x={73} y={-6} fontSize={29} fontStyle="italic">R</text>
        <text x={93} y={-1} fontSize={20} fontStyle="italic">p</text>
        <text x={69} y={29} fontSize={29} fontStyle="italic">R</text>
        <text x={91} y={29} fontSize={19}>⊕</text>
      </MathLabel>
    </svg>
  </div>
);

export default App;
